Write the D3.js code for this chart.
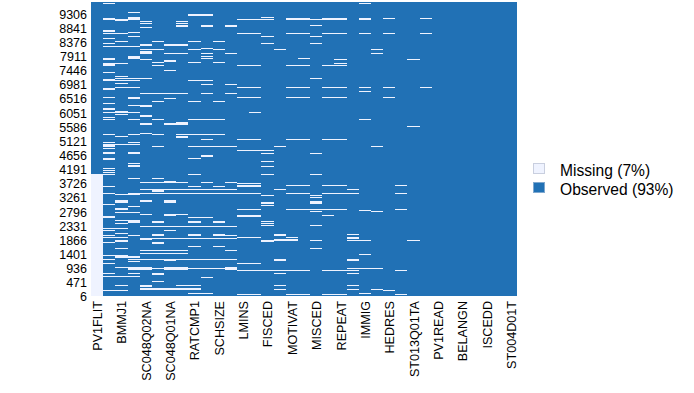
<!DOCTYPE html>
<html><head><meta charset="utf-8">
<style>html,body{margin:0;padding:0;background:#fff}svg{display:block}text{font-family:"Liberation Sans",Arial,sans-serif}</style>
<script src="https://cdn.jsdelivr.net/npm/d3@7/dist/d3.min.js"></script>
</head><body><svg id="c" width="694" height="393"></svg>
<script>
const variableLabels = ["PV1FLIT","BMMJ1","SC048Q02NA","SC048Q01NA","RATCMP1","SCHSIZE","LMINS","FISCED","MOTIVAT","MISCED","REPEAT","IMMIG","HEDRES","ST013Q01TA","PV1READ","BELANGN","ISCEDD","ST004D01T"];
const variableCount = 35;
const rowCount = 9672;
const rowTicks = [9306,8841,8376,7911,7446,6981,6516,6051,5586,5121,4656,4191,3726,3261,2796,2331,1866,1401,936,471,6];
const legendLabels = ["Missing (7%)","Observed (93%)"];
// each run: [middle row, rows missing, first variable index, last variable index]
const fullyMissingRuns = [[2013,4026,0,0]];
const upperRuns = [
[9639,33,1,1],[9331,33,3,3],[9243,55,8,9],[9111,55,1,1],[9089,66,2,2],[9133,88,3,3],[9111,33,12,13],[9155,33,14,14],[9100,33,14,14],[9100,66,16,17],[9111,33,18,18],[9100,66,19,20],[9100,66,22,22],[9120,33,24,24],[9120,33,27,27],[9639,33,22,22],
[9034,33,4,4],[8968,33,4,4],[8847,33,4,4],[9034,33,7,7],[8968,33,7,7],[8880,66,7,7],[8891,55,9,9],[8891,55,11,11],[8902,33,18,18],
[8726,55,1,1],[8638,33,1,2],[8660,33,3,3],[8638,33,12,13],[8638,33,16,17],[8638,33,19,20],[8638,33,22,22],[8638,33,24,24],[8638,33,27,27],[8539,33,3,3],[8539,33,14,14],[8539,33,18,18],[8462,33,1,1],
[8374,33,2,2],[8374,33,5,5],[8374,33,8,8],[8374,33,10,10],[8308,33,1,1],[8308,33,14,14],[8308,33,18,18],[8264,55,4,4],[8264,55,6,7],[8209,33,1,3],
[8110,33,4,5],[8110,33,8,8],[8132,33,9,9],[8110,33,10,10],[8110,33,15,15],[8110,33,23,23],[8011,88,4,4],[7978,33,6,7],[7978,33,9,9],[7978,33,11,11],[7978,33,23,23],
[7890,33,3,3],[7890,33,9,9],[7846,33,3,3],[7802,55,1,1],[7802,33,3,3],[7802,33,9,9],[7780,33,4,4],[7802,33,17,17],[7780,33,20,20],[7780,33,26,26],[7725,66,6,6],[7681,33,5,5],[7681,33,8,8],[7681,33,10,10],[7648,33,2,2],[7615,88,1,1],[7648,33,20,20],[7582,33,5,5],[7582,33,12,13],[7582,33,16,17],[7582,33,19,20],[7417,33,6,6],[7351,33,1,1],
[7219,33,2,2],[7153,33,2,2],[7153,33,4,4],[7098,66,1,1],[7098,33,2,3],[7153,33,3,3],[7098,33,8,9],[7153,33,18,18],[6988,33,2,2],[6955,33,9,9],[6955,33,11,11],[6856,33,2,3],[6856,33,12,13],[6856,33,16,17],[6856,33,19,20],[6856,33,22,22],[6856,33,24,24],[6856,33,27,27],[6812,88,1,1],[6724,33,22,22],
[6658,33,4,7],[6658,33,9,9],[6658,33,11,11],[6526,33,1,1],[6526,66,3,3],[6526,33,12,13],[6526,33,16,17],[6526,33,19,20],[6526,33,24,24],[6493,33,6,6],[6394,33,5,5],[6394,33,8,8],[6394,33,10,10],[6328,33,1,1],[6262,33,3,3],[6240,66,4,4],
[6152,66,1,1],[6053,66,2,2],[6031,33,1,1],[6031,33,3,3],[6031,33,13,13],[5965,33,2,2],[5921,66,4,4],[5877,33,1,1],[5800,33,1,1],[5800,33,3,3],[5800,33,5,5],[5800,33,8,10],[5800,33,22,22],[5657,66,4,4],[5657,55,6,6],[5668,88,7,7],[5569,33,26,26],
[5305,33,1,1],[5305,33,3,3],[5305,33,5,5],[5338,33,4,4],[5305,33,7,7],[5305,33,8,10],[5239,33,2,2],[5239,55,7,7],[5140,33,9,9],[5140,33,12,13],[5140,33,16,17],[5140,33,19,20],[5041,33,1,1],[5041,33,3,3],[4975,55,1,1],[4975,33,2,3],[4909,33,1,1],[4909,33,5,5],[4909,33,8,11],[4909,33,15,15],[4909,33,23,23],[4843,33,1,1],[4799,33,14,14]
];
const lowerRuns = [
[4803,33,12,13],[4693,66,1,1],[4693,66,3,3],[4693,33,14,14],[4693,33,18,18],[4605,55,9,9],[4528,33,8,8],[4495,66,1,1],[4429,33,14,14],[4363,33,3,3],[4308,33,3,3],[4275,33,14,14],[4253,33,3,3],[4198,33,1,1],[4121,33,1,1],[4055,33,1,1],[4000,33,1,1],[4000,33,8,8],[4000,33,14,14],[4000,33,18,18],
[3868,33,3,3],[3868,55,5,5],[3769,33,6,6],[3725,33,4,7],[3725,33,9,9],[3725,33,11,11],[3692,33,12,13],[3648,33,12,13],[3634,33,16,17],[3634,33,19,20],[3634,33,25,25],[3593,33,1,1],[3593,33,8,8],[3593,33,10,10],[3593,33,12,13],[3516,33,4,4],[3516,33,15,15],[3505,55,6,9],[3516,33,10,10],[3505,55,11,11],[3472,110,5,5],[3505,33,21,21],
[3373,33,1,1],[3373,33,3,11],[3373,33,12,13],[3373,33,16,17],[3373,33,19,21],[3373,33,25,25],[3340,55,2,3],[3307,33,14,14],[3307,33,18,18],[3241,33,18,18],[3153,33,2,2],[3153,33,4,4],[3098,66,2,2],[3098,33,4,4],[3098,88,6,6],[3065,66,14,14],[3065,88,18,18],[3021,33,1,1],[2988,33,14,14],[2955,33,3,3],[2856,55,2,2],[2845,33,12,13],[2845,33,16,20],[2845,33,25,25],[2801,33,22,22],[2779,33,18,18],[2779,33,23,23],[2757,33,2,3],
[2680,33,4,4],[2658,55,6,6],[2680,33,7,7],[2625,66,12,13],[2647,33,19,19],[2625,33,1,1],[2570,33,1,1],[2570,33,8,9],[2493,33,2,3],[2438,66,3,3],[2438,55,5,5],[2438,55,8,8],[2438,55,10,10],[2438,33,14,14],[2383,33,2,2],[2383,33,14,14],[2295,33,4,11],[2317,33,14,14],[2317,33,18,18],[2273,33,9,10],[2218,33,1,1],[2218,33,2,2],[2163,33,1,1],[2163,33,6,6],[2053,33,2,2],
[2020,33,15,15],[2020,55,21,21],[1998,33,1,1],[1998,33,3,3],[1998,55,5,5],[1998,55,8,8],[1998,55,10,10],[1998,33,11,11],[1998,33,15,15],[1921,33,1,2],[1921,33,12,13],[1921,33,16,16],[1921,66,21,21],[1888,33,4,11],[1855,33,15,16],[1855,33,4,4],[1822,33,15,16],[1822,33,18,18],[1822,33,21,22],[1822,33,26,26],[1811,55,2,2],[1811,55,14,14],[1745,55,5,5],[1745,33,1,1],[1613,33,8,8],[1613,33,10,10],[1558,33,2,2],[1558,33,18,18],
[1481,33,4,7],[1481,33,11,11],[1393,33,4,7],[1360,33,22,22],[1327,33,1,2],[1283,66,2,2],[1283,33,3,3],[1195,33,1,1],[1195,66,6,6],[1195,33,3,3],[1195,33,4,11],[1195,66,15,15],[1195,66,21,21],[1151,33,3,3],[1063,33,1,1],[1063,33,12,13],[953,33,2,2],[953,33,3,3],[898,88,3,4],[898,33,5,5],[898,88,6,7],[898,88,11,11],[898,33,8,10],[898,33,21,23],[843,33,12,14],[843,33,15,15],[843,33,16,17],[843,33,19,21],[843,33,25,25],
[733,33,1,1],[733,33,3,3],[733,66,5,5],[733,33,15,15],[733,33,21,21],[656,33,1,1],[656,33,2,3],[623,33,9,9],[480,55,5,5],[337,33,2,2],[337,55,4,4],[337,33,7,8],[337,33,15,15],[337,33,21,21],[238,55,4,8],[216,55,15,15],[216,33,21,21],[216,33,23,23],[183,33,1,2],[183,33,24,24],[73,33,8,9],[73,33,22,22],[40,33,12,13],[40,33,16,17],[40,33,19,20],[40,33,25,25]
];

const missingColor = "#EFF3FF", observedColor = "#2171B5";
const svg = d3.select("#c");
const x = d3.scaleBand().domain(d3.range(variableCount)).range([91, 517]);
const y = d3.scaleLinear().domain([0, rowCount]).range([296, 2]);

svg.append("rect").attr("x", x.range()[0]).attr("y", y(rowCount))
  .attr("width", x.range()[1]-x.range()[0]).attr("height", y(0)-y(rowCount)).attr("fill", observedColor);

const runs = [...fullyMissingRuns, ...upperRuns, ...lowerRuns];
svg.append("g").attr("shape-rendering","crispEdges").selectAll("rect").data(runs).join("rect")
  .attr("x", d => x(d[2]))
  .attr("width", d => x(d[3]) + x.bandwidth() - x(d[2]))
  .attr("y", d => y(d[0] + d[1]/2))
  .attr("height", d => Math.max(1, y(d[0] - d[1]/2) - y(d[0] + d[1]/2)))
  .attr("fill", missingColor);

const yAxis = svg.append("g").attr("transform","translate(91,1)")
  .call(d3.axisLeft(y).tickValues(rowTicks).tickFormat(d3.format("d")).tickSize(0).tickPadding(4));
yAxis.select(".domain").remove();
yAxis.selectAll("text").attr("font-size",12.5).attr("fill","#000").attr("font-family",'"Liberation Sans"');

const xAxis = svg.append("g").attr("transform","translate(1,296)")
  .call(d3.axisBottom(x).tickValues(d3.range(0,variableCount,2)).tickFormat(d => variableLabels[d/2]).tickSize(0));
xAxis.select(".domain").remove();
xAxis.selectAll("text").attr("font-size",12.6).attr("fill","#000").attr("font-family",'"Liberation Sans"')
  .attr("text-anchor","end").attr("dy",null).attr("dominant-baseline","central")
  .attr("transform","translate(0,5) rotate(-90)").attr("x",0).attr("y",0);

const lg = svg.append("g").selectAll("g").data(legendLabels).join("g")
  .attr("transform",(d,i)=>`translate(533,${163+i*19})`);
lg.append("rect").attr("x",0.5).attr("y",0.5).attr("width",11).attr("height",10)
  .attr("fill",(d,i)=>i?observedColor:missingColor).attr("stroke",(d,i)=>i?"#7fa8cf":"#c9cfdf").attr("stroke-width",1);
lg.append("text").attr("x",27).attr("y",7).attr("dominant-baseline","central")
  .attr("font-size",15.6).attr("fill","#000").text(d=>d);
</script></body></html>
